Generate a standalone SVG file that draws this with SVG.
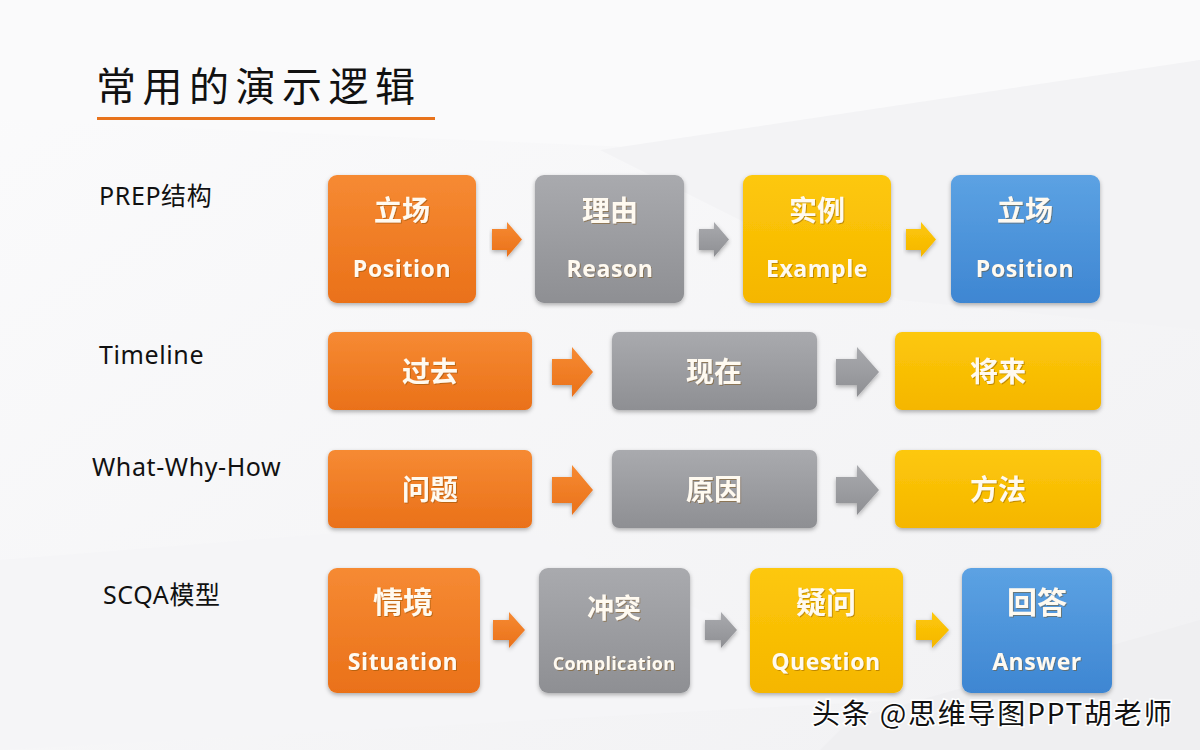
<svg xmlns="http://www.w3.org/2000/svg" width="1200" height="750" viewBox="0 0 1200 750">
<defs>
<linearGradient id="bg" x1="0" y1="0" x2="1" y2="1"><stop offset="0" stop-color="#fbfbfc"/><stop offset="1" stop-color="#f1f1f3"/></linearGradient>
<linearGradient id="gO" x1="0" y1="0" x2="0" y2="1"><stop offset="0" stop-color="#f68a33"/><stop offset="1" stop-color="#ea7119"/></linearGradient>
<linearGradient id="gG" x1="0" y1="0" x2="0" y2="1"><stop offset="0" stop-color="#a9aaae"/><stop offset="1" stop-color="#8e8f93"/></linearGradient>
<linearGradient id="gY" x1="0" y1="0" x2="0" y2="1"><stop offset="0" stop-color="#fdc80b"/><stop offset="1" stop-color="#f5b600"/></linearGradient>
<linearGradient id="gB" x1="0" y1="0" x2="0" y2="1"><stop offset="0" stop-color="#5ca2e3"/><stop offset="1" stop-color="#3e86d2"/></linearGradient>
<filter id="sh" x="-10%" y="-10%" width="120%" height="130%"><feDropShadow dx="0" dy="2" stdDeviation="2" flood-color="#000" flood-opacity="0.3"/></filter>
<filter id="ts" x="-10%" y="-10%" width="120%" height="130%"><feDropShadow dx="1" dy="1" stdDeviation="0.6" flood-color="#7a4a10" flood-opacity="0.45"/></filter>
</defs>
<style>
.o{fill:url(#gO)} .g{fill:url(#gG)} .y{fill:url(#gY)} .b{fill:url(#gB)}
.box{filter:url(#sh)}
.cn{font-family:"Noto Sans CJK SC","Noto Sans",sans-serif;font-weight:700;fill:#fffaf0;text-anchor:middle;filter:url(#ts)}
.en{font-family:"Open Sans","Noto Sans",sans-serif;font-weight:700;fill:#fffaf0;text-anchor:middle;filter:url(#ts);letter-spacing:0.6px}
.lab{font-family:"Noto Sans","Noto Sans CJK SC",sans-serif;font-size:25px;fill:#111;letter-spacing:0.6px}
</style>
<rect width="1200" height="750" fill="url(#bg)"/>
<polygon points="0,0 1200,0 1200,60 700,150 0,120" fill="#fafafb"/>
<polygon points="600,150 1200,60 1200,330 900,300" fill="#f3f3f5"/>
<polygon points="0,560 500,520 900,700 0,750" fill="#f5f5f7"/>
<polygon points="850,720 1200,620 1200,750 820,750" fill="#efeff1"/>

<g id="title">
<text x="96" y="101" font-family="Noto Sans CJK SC,sans-serif" font-size="40" letter-spacing="6.5" fill="#111">常用的演示逻辑</text>
<rect x="97" y="117" width="338" height="3" fill="#e8731c"/>
</g>

<g id="labels">
<text class="lab" x="99" y="205">PREP结构</text>
<text class="lab" x="99" y="364">Timeline</text>
<text class="lab" x="92" y="476">What-Why-How</text>
<text class="lab" x="103" y="604">SCQA模型</text>
</g>

<g id="connectors">
<path class="o box" d="M492,229 H507 V222 L522,239.5 L507,257 V250 H492 Z"/>
<path class="g box" d="M699,229 H714 V222 L729,239.5 L714,257 V250 H699 Z"/>
<path class="y box" d="M906,229 H921 V222 L936,239.5 L921,257 V250 H906 Z"/>
<path class="o box" d="M552,359 H572 V347 L593,372 L572,397 V385 H552 Z"/>
<path class="g box" d="M836,359 H857 V347 L879,372 L857,397 V385 H836 Z"/>
<path class="o box" d="M552,477 H572 V465 L593,490 L572,515 V503 H552 Z"/>
<path class="g box" d="M836,477 H857 V465 L879,490 L857,515 V503 H836 Z"/>
<path class="o box" d="M493,620 H509 V612 L525,630 L509,648 V640 H493 Z"/>
<path class="g box" d="M705,620 H721 V612 L737,630 L721,648 V640 H705 Z"/>
<path class="y box" d="M916,620 H932 V612 L949,630 L932,648 V640 H916 Z"/>
</g>

<g id="n1"><rect class="o box" x="328" y="175" width="148" height="128" rx="9"/><text class="cn" x="402" y="221" font-size="28">立场</text><text class="en" x="402" y="277" font-size="23">Position</text></g>
<g id="n2"><rect class="g box" x="535" y="175" width="149" height="128" rx="9"/><text class="cn" x="610" y="221" font-size="28">理由</text><text class="en" x="610" y="277" font-size="23">Reason</text></g>
<g id="n3"><rect class="y box" x="743" y="175" width="148" height="128" rx="9"/><text class="cn" x="817" y="221" font-size="28">实例</text><text class="en" x="817" y="277" font-size="23">Example</text></g>
<g id="n4"><rect class="b box" x="951" y="175" width="149" height="128" rx="9"/><text class="cn" x="1025" y="221" font-size="28">立场</text><text class="en" x="1025" y="277" font-size="23">Position</text></g>

<g id="n5"><rect class="o box" x="328" y="332" width="204" height="78" rx="7"/><text class="cn" x="430" y="382" font-size="28">过去</text></g>
<g id="n6"><rect class="g box" x="612" y="332" width="205" height="78" rx="7"/><text class="cn" x="714" y="382" font-size="28">现在</text></g>
<g id="n7"><rect class="y box" x="895" y="332" width="206" height="78" rx="7"/><text class="cn" x="998" y="382" font-size="28">将来</text></g>

<g id="n8"><rect class="o box" x="328" y="450" width="204" height="78" rx="7"/><text class="cn" x="430" y="500" font-size="28">问题</text></g>
<g id="n9"><rect class="g box" x="612" y="450" width="205" height="78" rx="7"/><text class="cn" x="714" y="500" font-size="28">原因</text></g>
<g id="n10"><rect class="y box" x="895" y="450" width="206" height="78" rx="7"/><text class="cn" x="998" y="500" font-size="28">方法</text></g>

<g id="n11"><rect class="o box" x="328" y="568" width="152" height="125" rx="9"/><text class="cn" x="403" y="613" font-size="30">情境</text><text class="en" x="403" y="670" font-size="23">Situation</text></g>
<g id="n12"><rect class="g box" x="539" y="568" width="151" height="125" rx="9"/><text class="cn" x="614" y="618" font-size="27">冲突</text><text class="en" x="614" y="670" font-size="18" style="letter-spacing:0.3px">Complication</text></g>
<g id="n13"><rect class="y box" x="750" y="568" width="153" height="125" rx="9"/><text class="cn" x="826" y="613" font-size="30">疑问</text><text class="en" x="826" y="670" font-size="23">Question</text></g>
<g id="n14"><rect class="b box" x="962" y="568" width="150" height="125" rx="9"/><text class="cn" x="1037" y="613" font-size="30">回答</text><text class="en" x="1037" y="670" font-size="23">Answer</text></g>

<g id="watermark">
<text x="812" y="724" font-family="Noto Sans CJK SC,sans-serif" font-size="28" letter-spacing="1.8" fill="#111" stroke="#fff" stroke-width="3" paint-order="stroke">头条 @思维导图PPT胡老师</text>
</g>
</svg>
